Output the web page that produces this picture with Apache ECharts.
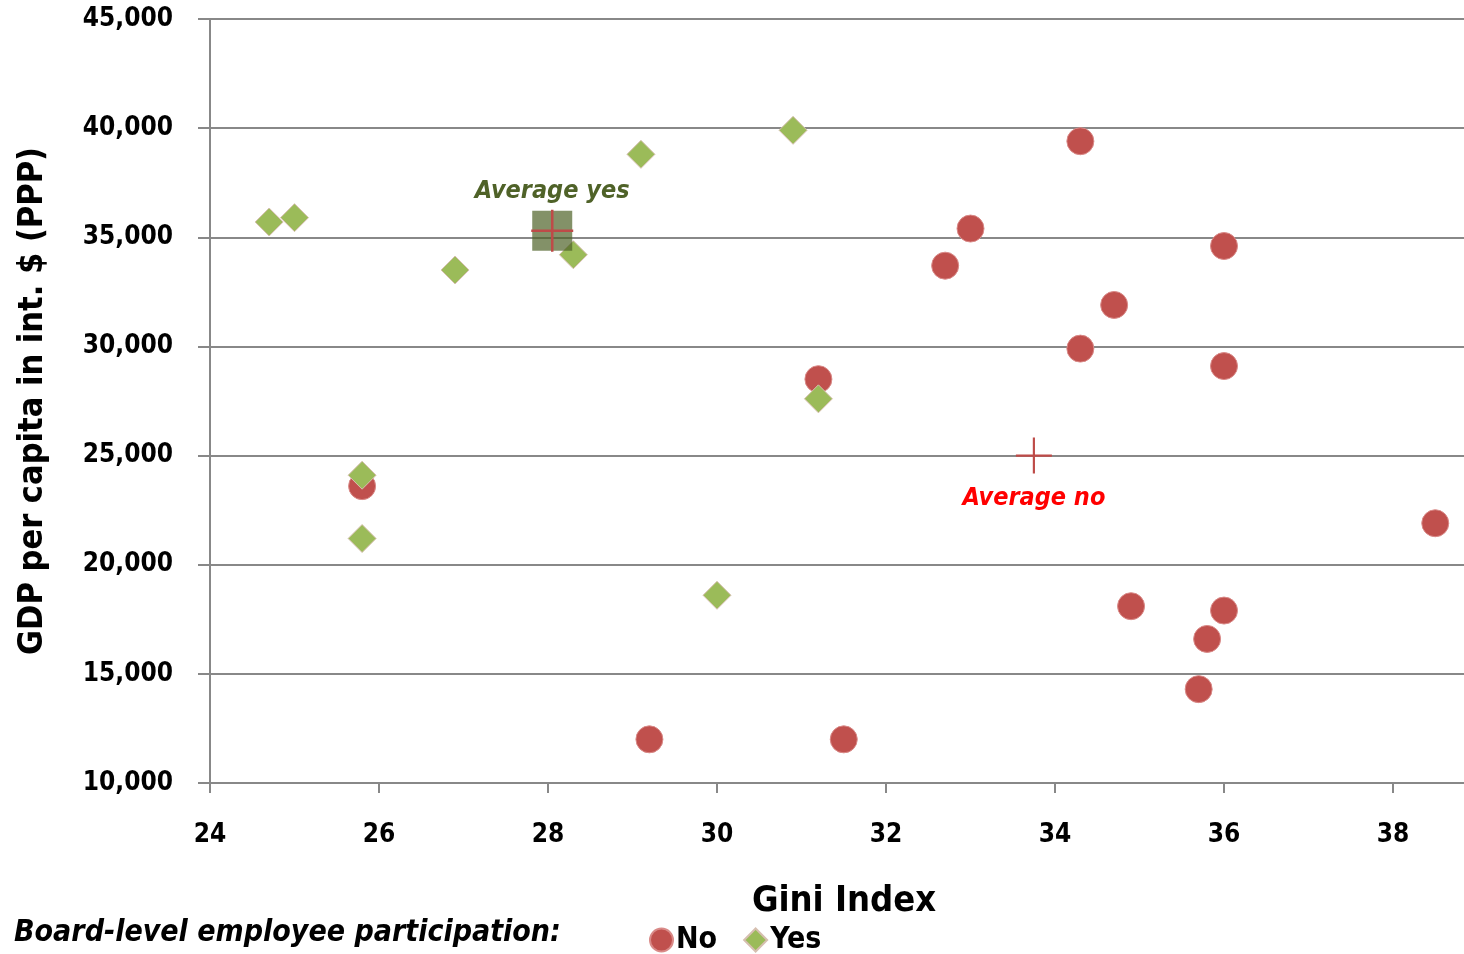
<!DOCTYPE html>
<html>
<head>
<meta charset="utf-8">
<script src="https://cdn.jsdelivr.net/npm/echarts@6/dist/echarts.min.js"></script>
<style>
  html, body { margin: 0; padding: 0; background: #fff; }
  #main { width: 1464px; height: 954px; }
</style>
</head>
<body>
<div id="main"></div>
<script>
  // Gini index / GDP per capita
  var noGini = [34.3, 33.0, 32.7, 36.0, 34.7, 34.3, 36.0, 31.2, 25.8, 38.5, 34.9, 36.0, 35.8, 35.7, 29.2, 31.5];
  var noGdp = [39400, 35400, 33700, 34600, 31900, 29900, 29100, 28500, 23600, 21900, 18100, 17900, 16600, 14300, 12000, 12000];
  var yesGini = [24.7, 25.0, 26.9, 28.3, 29.1, 30.9, 31.2, 25.8, 25.8, 30.0];
  var yesGdp = [35700, 35900, 33500, 34200, 38800, 39900, 27600, 24100, 21200, 18600];
  var avgYes = [28.05, 35300];
  var avgNo = [33.75, 25000];
  var xTicks = [24, 26, 28, 30, 32, 34, 36, 38];

  var FONT = '"DejaVu Sans Condensed", "Noto Sans", sans-serif';
  var CROSS = 'path://M0,47H100V53H0Z M47,0H53V100H47Z';

  function pairs(xs, ys) {
    var res = [];
    for (var i = 0; i < xs.length; i++) res.push([xs[i], ys[i]]);
    return res;
  }

  var myChart = echarts.init(document.getElementById('main'));
  var option = {
    animation: false,
    textStyle: { fontFamily: FONT },
    grid: { left: 210, top: 19, right: 0, bottom: 171 },
    legend: {
      data: [
        { name: 'No', icon: 'circle' },
        { name: 'Yes', icon: 'diamond' }
      ],
      left: 644, top: 920,
      itemWidth: 23, itemHeight: 23, itemGap: 26,
      textStyle: { fontFamily: FONT, fontSize: 30, fontWeight: 'bold', color: '#000', padding: [0, 0, 0, -2] }
    },
    graphic: [{
      type: 'text', left: 14, top: 918,
      style: {
        text: 'Board-level employee participation:',
        fontFamily: FONT, fontSize: 30, fontStyle: 'italic', fontWeight: 'bold', fill: '#000'
      }
    }],
    xAxis: {
      type: 'value', min: 24, max: 38.84, interval: 2,
      name: 'Gini Index', nameLocation: 'middle', nameGap: 101,
      nameTextStyle: { fontFamily: FONT, fontSize: 36, fontWeight: 'bold', color: '#000', padding: [0, 0, 0, 14] },
      axisLine: { lineStyle: { color: '#888', width: 2 } },
      axisTick: { show: true, length: 10, lineStyle: { color: '#888', width: 2 } },
      axisLabel: {
        margin: 39, fontSize: 26, fontWeight: 'bold', color: '#000', showMaxLabel: false,
        formatter: function (v) { return xTicks.indexOf(v) >= 0 ? String(v) : ''; }
      },
      splitLine: { show: false }
    },
    yAxis: {
      type: 'value', min: 10000, max: 45000, interval: 5000,
      name: 'GDP per capita in int. $ (PPP)', nameLocation: 'middle', nameGap: 160,
      nameTextStyle: { fontFamily: FONT, fontSize: 34, fontWeight: 'bold', color: '#000' },
      axisLine: { show: true, lineStyle: { color: '#888', width: 2 } },
      axisTick: { show: true, length: 12, lineStyle: { color: '#888', width: 2 } },
      axisLabel: {
        margin: 37, fontSize: 26, fontWeight: 'bold', color: '#000',
        formatter: function (v) { return v.toLocaleString('en-US'); }
      },
      splitLine: { show: true, lineStyle: { color: '#888', width: 2 } }
    },
    series: [
      {
        name: 'No', type: 'scatter', symbol: 'circle', symbolSize: 27,
        itemStyle: { color: '#c0504d', borderColor: '#d98a88', borderWidth: 1, opacity: 1 },
        data: pairs(noGini, noGdp)
      },
      {
        name: 'Yes', type: 'scatter', symbol: 'diamond', symbolSize: 28,
        itemStyle: { color: '#9bbb59', borderColor: '#d6bfb0', borderWidth: 1, opacity: 1 },
        data: pairs(yesGini, yesGdp), z: 3
      },
      {
        name: 'avgYesBox', type: 'scatter', symbol: 'rect', symbolSize: 40,
        itemStyle: { color: 'rgba(79,98,40,0.7)', opacity: 1 },
        data: [avgYes], z: 4,
        label: {
          show: true, position: 'top', distance: 7, formatter: 'Average yes',
          fontFamily: FONT, fontSize: 25, fontStyle: 'italic', fontWeight: 'bold', color: '#4f6228'
        }
      },
      {
        name: 'avgYesCross', type: 'scatter', symbol: CROSS, symbolSize: 42,
        itemStyle: { color: '#be4b48', opacity: 1 }, data: [avgYes], z: 5
      },
      {
        name: 'avgNoCross', type: 'scatter', symbol: CROSS, symbolSize: 36,
        itemStyle: { color: '#be4b48', opacity: 1 }, data: [avgNo], z: 5,
        label: {
          show: true, position: 'bottom', distance: 12, formatter: 'Average no',
          fontFamily: FONT, fontSize: 25, fontStyle: 'italic', fontWeight: 'bold', color: '#ff0000'
        }
      }
    ]
  };
  myChart.setOption(option);
</script>
</body>
</html>
